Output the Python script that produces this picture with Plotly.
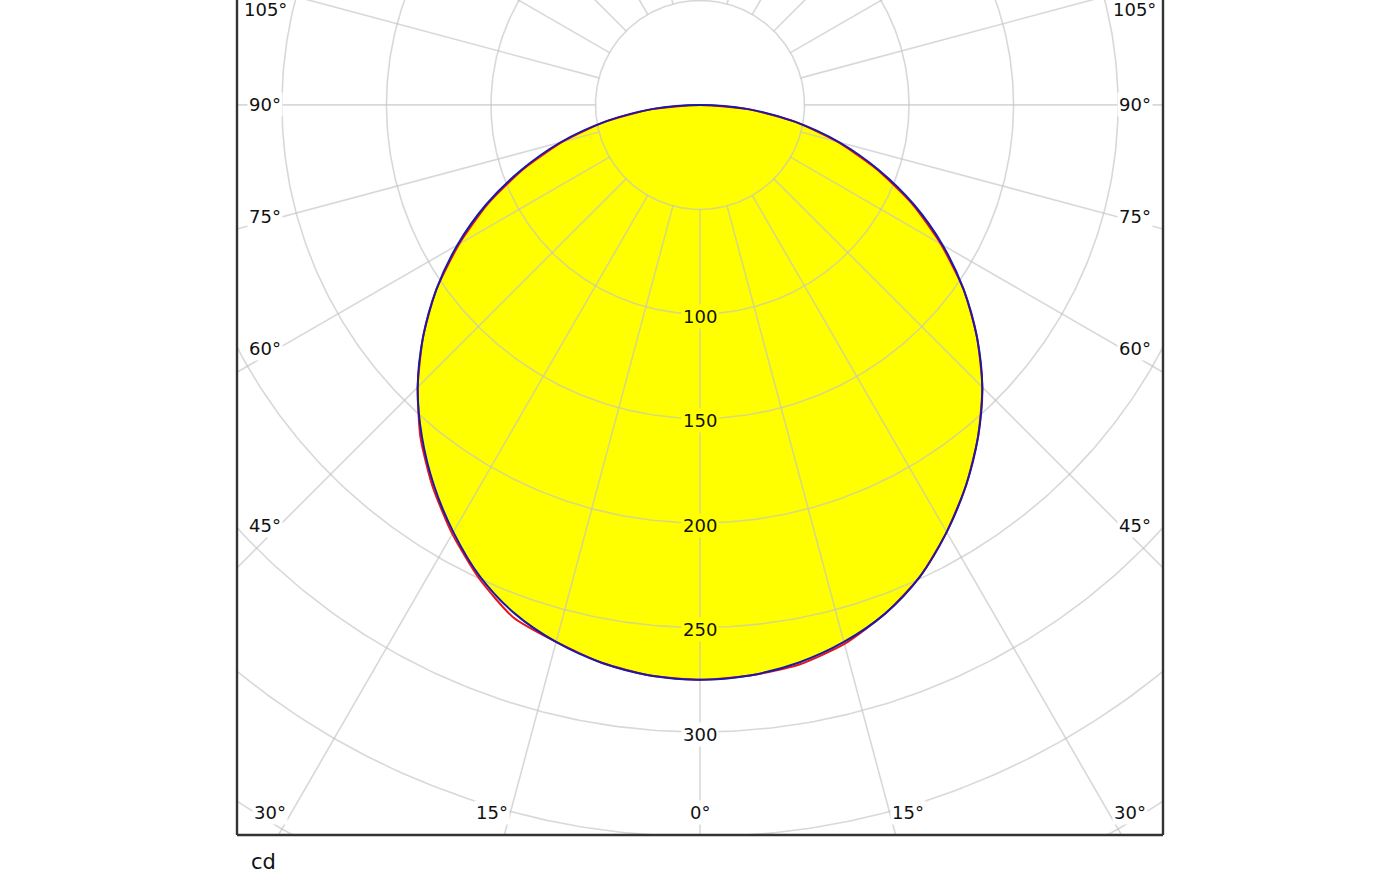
import numpy as np
import plotly.graph_objects as go

# gamma angles (deg), negative = left half of the diagram
angles = list(range(-90, 95, 5))

# C0-C180 plane (red), cd
c0_c180 = [0, 23, 46, 68, 90, 112, 133, 154, 173, 191, 208, 223, 237, 250, 261, 266, 271, 274,
           275,
           274, 272, 267, 259, 249, 236, 222, 207, 191, 173, 154, 133, 112, 90, 68, 46, 23, 0]

# C90-C270 plane (blue), cd
c90_c270 = [0, 23, 46, 69, 91, 113, 134, 154, 173, 191, 207, 222, 236, 249, 259, 266, 271, 274,
            275,
            274, 271, 266, 259, 249, 236, 222, 207, 191, 173, 154, 134, 113, 91, 69, 46, 23, 0]

# grid
ring_values = [50, 100, 150, 200, 250, 300, 350, 400, 450]
ring_labels = [100, 150, 200, 250, 300]
spoke_angles = list(range(0, 360, 15))

# angle labels: text, x (cd), y (cd)
angle_labels = [
    ("105°", -208, 45.5), ("90°", -208, 0), ("75°", -208, -53.6), ("60°", -208, -116.3), ("45°", -208, -201),
    ("105°", 208, 45.5), ("90°", 208, 0), ("75°", 208, -53.6), ("60°", 208, -116.3), ("45°", 208, -201),
    ("30°", -205.7, -338.3), ("15°", -99.5, -338.3), ("0°", 0, -338.3), ("15°", 99.5, -338.3), ("30°", 205.7, -338.3),
]


def to_xy(gamma, r):
    g = np.radians(np.asarray(gamma, dtype=float))
    r = np.asarray(r, dtype=float)
    return r * np.sin(g), -r * np.cos(g)


fig = go.Figure()

# yellow area
fx, fy = to_xy(angles, c90_c270)
fig.add_trace(go.Scatter(x=fx, y=fy, mode="lines", fill="toself", fillcolor="#ffff00",
                         line=dict(width=0, shape="spline", smoothing=1),
                         hoverinfo="skip", showlegend=False))

grid_col = "rgba(195,195,195,0.65)"
t = np.linspace(0, 360, 721)
for rv in ring_values:
    gx, gy = to_xy(t, np.full_like(t, rv))
    fig.add_trace(go.Scatter(x=gx, y=gy, mode="lines", line=dict(color=grid_col, width=1.6),
                             hoverinfo="skip", showlegend=False))
for a in spoke_angles:
    sx, sy = to_xy([a, a], [ring_values[0], 600])
    fig.add_trace(go.Scatter(x=sx, y=sy, mode="lines", line=dict(color=grid_col, width=1.6),
                             hoverinfo="skip", showlegend=False))

rx, ry = to_xy(angles, c0_c180)
fig.add_trace(go.Scatter(x=rx, y=ry, mode="lines",
                         line=dict(color="#e8141c", width=2, shape="spline", smoothing=0.6),
                         name="C0 - C180", showlegend=False))
bx, by = to_xy(angles, c90_c270)
fig.add_trace(go.Scatter(x=bx, y=by, mode="lines",
                         line=dict(color="#1a1aa8", width=2, shape="spline", smoothing=1),
                         name="C90 - C270", showlegend=False))

font = dict(family="DejaVu Sans, Verdana, sans-serif", size=18, color="#111111")

for v in ring_labels:
    inside = v < c90_c270[angles.index(0)]
    fig.add_annotation(x=0, y=-v - 1, text=str(v), showarrow=False, font=font,
                       bgcolor="#ffff00" if inside else "white", borderpad=1)

for txt, lx, ly in angle_labels:
    fig.add_annotation(x=lx, y=ly, text=txt, showarrow=False, font=font,
                       bgcolor="white", borderpad=1)

fig.add_annotation(x=0.013, y=-0.032, xref="paper", yref="paper", text="cd", showarrow=False,
                   xanchor="left", yanchor="middle",
                   font=dict(family="DejaVu Sans, Verdana, sans-serif", size=21, color="#111111"))

# frame (top edge is outside the picture)
frame = dict(color="#333333", width=2.4)
fig.add_shape(type="line", xref="paper", yref="paper", x0=0, x1=0, y0=0, y1=1.02, line=frame)
fig.add_shape(type="line", xref="paper", yref="paper", x0=1, x1=1, y0=0, y1=1.02, line=frame)
fig.add_shape(type="line", xref="paper", yref="paper", x0=0, x1=1, y0=0, y1=0, line=frame)

fig.update_layout(
    width=1400, height=875,
    margin=dict(l=237, r=237, t=0, b=40),
    plot_bgcolor="white", paper_bgcolor="white",
    xaxis=dict(range=[-221.5, 221.5], visible=False, showgrid=False, zeroline=False),
    yaxis=dict(range=[-349.3, 50.2], visible=False, showgrid=False, zeroline=False),
    showlegend=False,
)

fig.write_html("out.html", config={"displayModeBar": False},
               post_script="document.body.style.margin='0';")
